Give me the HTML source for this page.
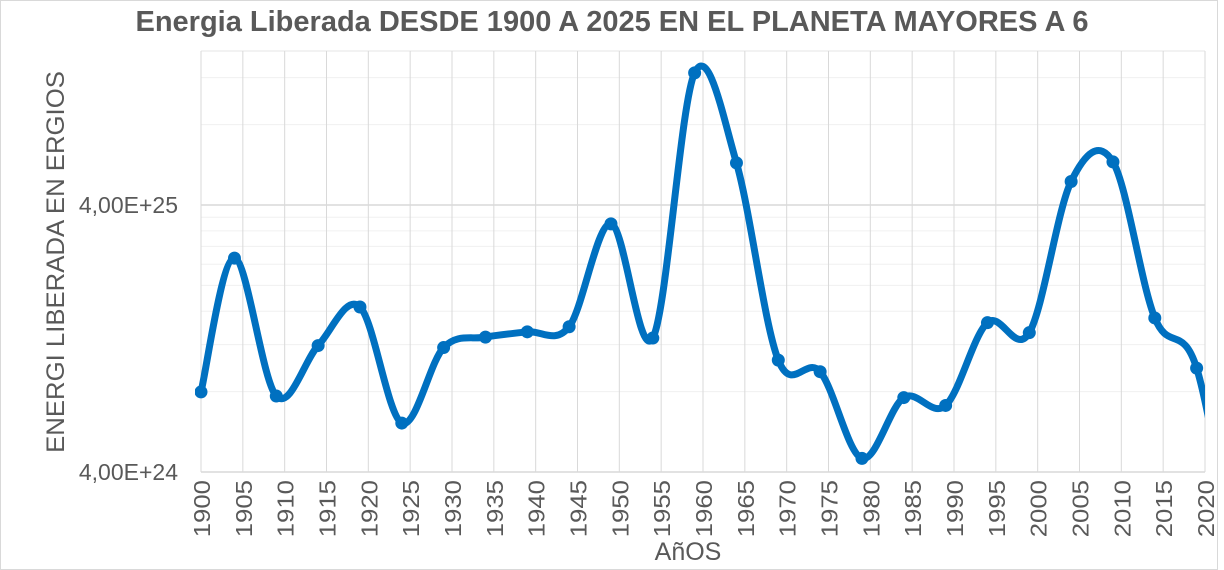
<!DOCTYPE html>
<html><head><meta charset="utf-8"><style>
html,body{margin:0;padding:0;background:#fff;}
svg{display:block;font-family:"Liberation Sans",sans-serif;}
</style></head><body>
<svg id="chart" width="1224" height="570" viewBox="0 0 1224 570">
<rect x="0.5" y="0.5" width="1217" height="569" fill="#fff" stroke="#d9d9d9"/>
<text x="612" y="31" text-anchor="middle" font-size="29" font-weight="bold" fill="#595959">Energia Liberada DESDE 1900 A 2025 EN EL PLANETA MAYORES A 6</text>
<text transform="translate(64,262) rotate(-90) scale(1.03,1)" text-anchor="middle" font-size="25" fill="#595959">ENERGI LIBERADA EN ERGIOS</text>
<text transform="translate(688,560)" text-anchor="middle" font-size="25" fill="#595959">AñOS</text>
<defs><clipPath id="plotclip"><rect x="195" y="51" width="1010" height="421"/></clipPath></defs>
<g id="grid"></g>
<g id="axes"></g>
<g id="series" clip-path="url(#plotclip)"></g>
</svg>
<script>
const years = [1900,1904,1909,1914,1919,1924,1929,1934,1939,1944,1949,1954,1959,1964,1969,1974,1979,1984,1989,1994,1999,2004,2009,2014,2019,2024];
const energy = [7.98e24,2.53e25,7.7e24,1.19e25,1.66e25,6.1e24,1.17e25,1.28e25,1.34e25,1.40e25,3.40e25,1.27e25,1.25e26,5.75e25,1.05e25,9.5e24,4.5e24,7.6e24,7.1e24,1.45e25,1.33e25,4.9e25,5.8e25,1.51e25,9.8e24,1.5e24];
const xTicks = [1900,1905,1910,1915,1920,1925,1930,1935,1940,1945,1950,1955,1960,1965,1970,1975,1980,1985,1990,1995,2000,2005,2010,2015,2020];
const yMajor = [4e24,4e25];
const yMajorLabels = ["4,00E+24","4,00E+25"];
const yMinor = [8e24,1.2e25,1.6e25,2e25,2.4e25,2.8e25,3.2e25,3.6e25,8e25,1.2e26];

const NS="http://www.w3.org/2000/svg";
const X0=201,X1=1205,Y0=472,DEC=267;
const xs=y=>X0+(y-1900)*(X1-X0)/120;
const ys=v=>Y0-Math.log10(v/4e24)*DEC;
function mk(tag,attrs,parent){const e=document.createElementNS(NS,tag);for(const k in attrs)e.setAttribute(k,attrs[k]);parent.appendChild(e);return e;}
const grid=document.getElementById('grid'),axes=document.getElementById('axes'),series=document.getElementById('series');
yMinor.forEach(v=>{const l=mk('line',{x1:X0,x2:X1,y1:ys(v),y2:ys(v),stroke:'#f0f0f0','stroke-width':1},grid);

});
const topLine=mk('line',{x1:X0,x2:X1,y1:51,y2:51,stroke:'#e6e6e6','stroke-width':1},grid);


xTicks.forEach(t=>{const l=mk('line',{x1:xs(t),x2:xs(t),y1:51,y2:Y0,stroke:'#d9d9d9','stroke-width':1},grid);


const tx=mk('text',{transform:`translate(${xs(t)+9},${Y0+8}) rotate(-90) scale(1.12,1)`,'text-anchor':'end','font-size':23,fill:'#595959'},axes);
tx.textContent=t;

});
yMajor.forEach((v,i)=>{const l=mk('line',{x1:X0,x2:X1,y1:ys(v),y2:ys(v),stroke:'#d9d9d9','stroke-width':1.5},grid);


const tx=mk('text',{transform:`translate(${X0-23},${ys(v)+8}) scale(1.0,1)`,'text-anchor':'end','font-size':23,fill:'#595959'},axes);
tx.textContent=yMajorLabels[i];

});
const pts=years.map((y,i)=>[xs(y),ys(energy[i])]);
let d=`M${pts[0][0]},${pts[0][1]}`;
for(let i=0;i<pts.length-1;i++){const p0=pts[i-1]||pts[i],p1=pts[i],p2=pts[i+1],p3=pts[i+2]||p2;
const c1=[p1[0]+(p2[0]-p0[0])/6,p1[1]+(p2[1]-p0[1])/6],c2=[p2[0]-(p3[0]-p1[0])/6,p2[1]-(p3[1]-p1[1])/6];
d+=` C${c1[0]},${c1[1]} ${c2[0]},${c2[1]} ${p2[0]},${p2[1]}`;}
const path=mk('path',{d:d,fill:'none',stroke:'#0070C0','stroke-width':7,'stroke-linejoin':'round','stroke-linecap':'round'},series);


pts.forEach(p=>{const c=mk('circle',{cx:p[0],cy:p[1],r:6.5,fill:'#0070C0'},series);

});
</script>
</body></html>
